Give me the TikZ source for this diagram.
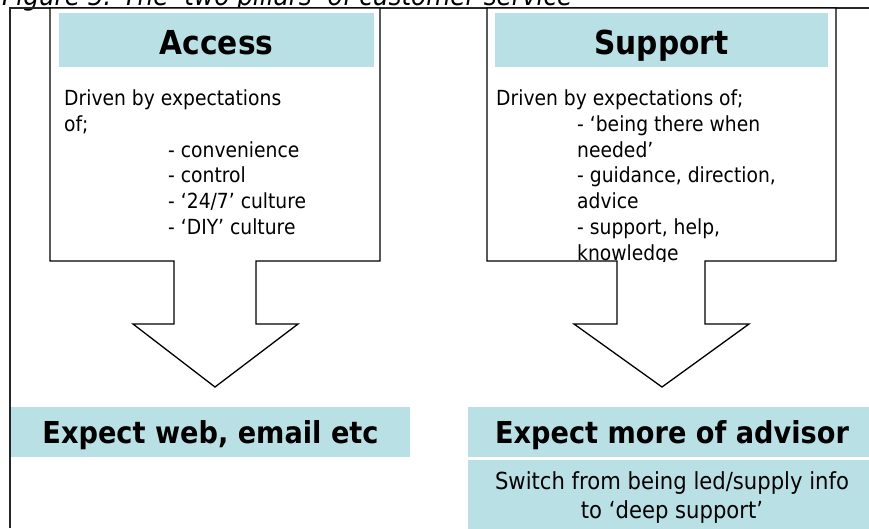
\documentclass[tikz,border=0pt]{standalone}
\usepackage{fontspec}
\setmainfont{DejaVu Sans}[FakeStretch=0.9]
\usepackage{tikz}
\usetikzlibrary{positioning}
\definecolor{pillarblue}{RGB}{185,224,228}

\begin{document}
\begin{tikzpicture}[x=1pt, y=-1pt,
  frame/.style={draw=black!85, line width=1.3pt},
  pillar/.style={draw=black, line width=1.3pt, fill=white, line join=miter},
  head/.style={fill=pillarblue, minimum width=#1, minimum height=54pt, inner sep=0pt, text height=28pt, text depth=0pt, font=\fontsize{33}{40}\selectfont\bfseries},
  result/.style={fill=pillarblue, minimum width=#1, minimum height=50pt, inner sep=0pt, text height=22pt, text depth=0pt, font=\fontsize{30.2}{34}\selectfont\bfseries},
  body/.style={anchor=base west, inner sep=0pt, font=\fontsize{20.8}{25}\selectfont},
  caption/.style={anchor=base west, inner sep=0pt, font=\fontsize{27.5}{32}\selectfont\itshape},
]
\useasboundingbox (0,0) rectangle (869,528);
\clip (0,0) rectangle (869,528);

\node[caption] (figcap) at (2,5) {Figure 5: The ‘two pillars’ of customer service};
\draw[frame] (10,528) -- (10,8) -- (869,8);

% the two pillars, box and block arrow in one outline
\draw[pillar] (50,8) -- (380,8) -- (380,261) -- (256,261) -- (256,324) -- (298,324)
  -- (215,387) -- (133,324) -- (174,324) -- (174,261) -- (50,261) -- cycle;
\draw[pillar] (487,8) -- (836,8) -- (836,261) -- (705,261) -- (705,324) -- (749,324)
  -- (662,387) -- (574,324) -- (617,324) -- (617,261) -- (487,261) -- cycle;

\node[head=315pt] (access) at (216.5,40) {Access};
\node[head=333pt] (support) at (661.5,40) {Support};

\foreach \dx/\txt [count=\i] in {0/{Driven by expectations}, 0/{of;}, 104/{- convenience},
    104/{- control}, 104/{- ‘24/7’ culture}, 104/{- ‘DIY’ culture}}
  \node[body] (access-\i) at (64+\dx, 79.7+\i*25.8) {\txt};

\begin{scope}
  \clip (487,8) rectangle (836,261);
  \foreach \dx/\txt [count=\i] in {0/{Driven by expectations of;}, 81/{- ‘being there when},
      81/{needed’}, 81/{- guidance, direction,}, 81/{advice}, 81/{- support, help,}, 81/{knowledge}}
    \node[body] (support-\i) at (496+\dx, 79.7+\i*25.8) {\txt};
\end{scope}

\node[result=399pt] (web) at (210.5,432) {Expect web, email etc};
\node[result=408pt] (advisor) at (672,432) {Expect more of advisor};
\node[fill=pillarblue, minimum width=408pt, minimum height=75pt, inner sep=0pt, align=center,
  font=\fontsize{23.5}{29}\selectfont, below=3pt of advisor] (switch)
  {Switch from being led/supply info\\to ‘deep support’};

\end{tikzpicture}
\end{document}
